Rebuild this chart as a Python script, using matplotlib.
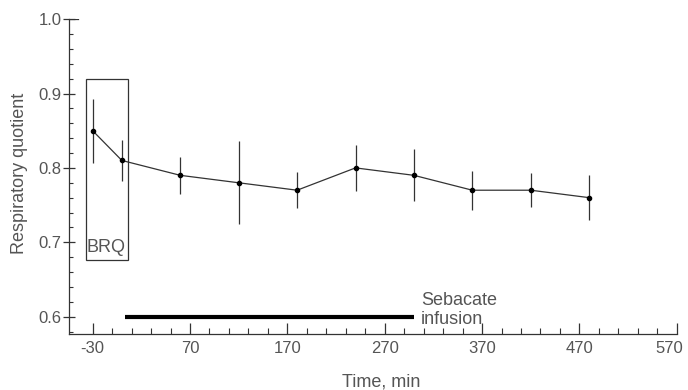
import matplotlib
matplotlib.use("Agg")
import matplotlib.pyplot as plt
import matplotlib.transforms as mtransforms
from matplotlib.patches import Rectangle
from matplotlib.ticker import MultipleLocator

plt.rcParams['font.family'] = ['Liberation Sans', 'DejaVu Sans']

# data
time_min = [-30, 0, 60, 120, 180, 240, 300, 360, 420, 480]
rq = [0.85, 0.81, 0.79, 0.78, 0.77, 0.80, 0.79, 0.77, 0.77, 0.76]
rq_err = [0.043, 0.027, 0.025, 0.056, 0.024, 0.031, 0.035, 0.026, 0.023, 0.030]

x_ticks = [-30, 70, 170, 270, 370, 470, 570]
x_labels = ['-30', '70', '170', '270', '370', '470', '570']
y_ticks = [0.6, 0.7, 0.8, 0.9, 1.0]
y_labels = ['0.6', '0.7', '0.8', '0.9', '1.0']

brq_span = (-37, 6)
brq_range = (0.676, 0.919)
infusion_span = (3, 300)
infusion_level = 0.6

ink = '#333333'
txt = '#555555'

fig = plt.figure(figsize=(6.88, 3.9), dpi=100)
ax = fig.add_axes([0.1007, 0.143, 0.883, 0.808])

ax.errorbar(time_min, rq, yerr=rq_err, color=ink, lw=0.9, elinewidth=0.9,
            capsize=0, marker='o', ms=3, mfc='black', mec='black')

ax.add_patch(Rectangle((brq_span[0], brq_range[0]), brq_span[1] - brq_span[0],
                       brq_range[1] - brq_range[0], fill=False, ec=ink, lw=0.9))
ax.text(brq_span[0] + 1, 0.693, 'BRQ', fontsize=13, color=txt, va='center', ha='left')

ax.plot(infusion_span, [infusion_level] * 2, color='black', lw=3, solid_capstyle='butt')
ax.text(307, 0.609, 'Sebacate\ninfusion', fontsize=13, color=txt, va='center', ha='left',
        linespacing=1.1)

ax.set_xlim(-54, 570)
ax.set_ylim(0.5764, 1.0)
ax.set_xticks(x_ticks)
ax.set_xticklabels(x_labels)
ax.set_yticks(y_ticks)
ax.set_yticklabels(y_labels)
ax.set_xticks([-30 + 20 * i for i in range(31)], minor=True)
ax.yaxis.set_minor_locator(MultipleLocator(0.02))

ax.tick_params(axis='x', which='major', direction='in', length=8, width=0.9, color=ink,
               labelsize=12, labelcolor=txt, pad=5)
ax.tick_params(axis='x', which='minor', direction='in', length=4, width=0.8, color=ink)
ax.tick_params(axis='y', which='major', direction='inout', length=9, width=0.9, color=ink,
               labelsize=12, labelcolor=txt, pad=1)
ax.tick_params(axis='y', which='minor', direction='in', length=3, width=0.8, color=ink)

# last x label sits a little left of its tick in the original
last = ax.get_xticklabels()[-1]
last.set_transform(last.get_transform() + mtransforms.ScaledTranslation(-8 / 100, 0, fig.dpi_scale_trans))

ax.axhline(1.0, xmin=0, xmax=0.015, color=ink, lw=0.9)

for s in ['top', 'right']:
    ax.spines[s].set_visible(False)
for s in ['left', 'bottom']:
    ax.spines[s].set_color(ink)
    ax.spines[s].set_linewidth(0.9)

ax.set_xlabel('Time, min', fontsize=13, color=txt)
ax.xaxis.set_label_coords(0.513, -0.125)
ax.set_ylabel('Respiratory quotient', fontsize=13, color=txt)
ax.yaxis.set_label_coords(-0.068, 0.51)

fig.savefig('out.png', dpi=100, facecolor='white')
